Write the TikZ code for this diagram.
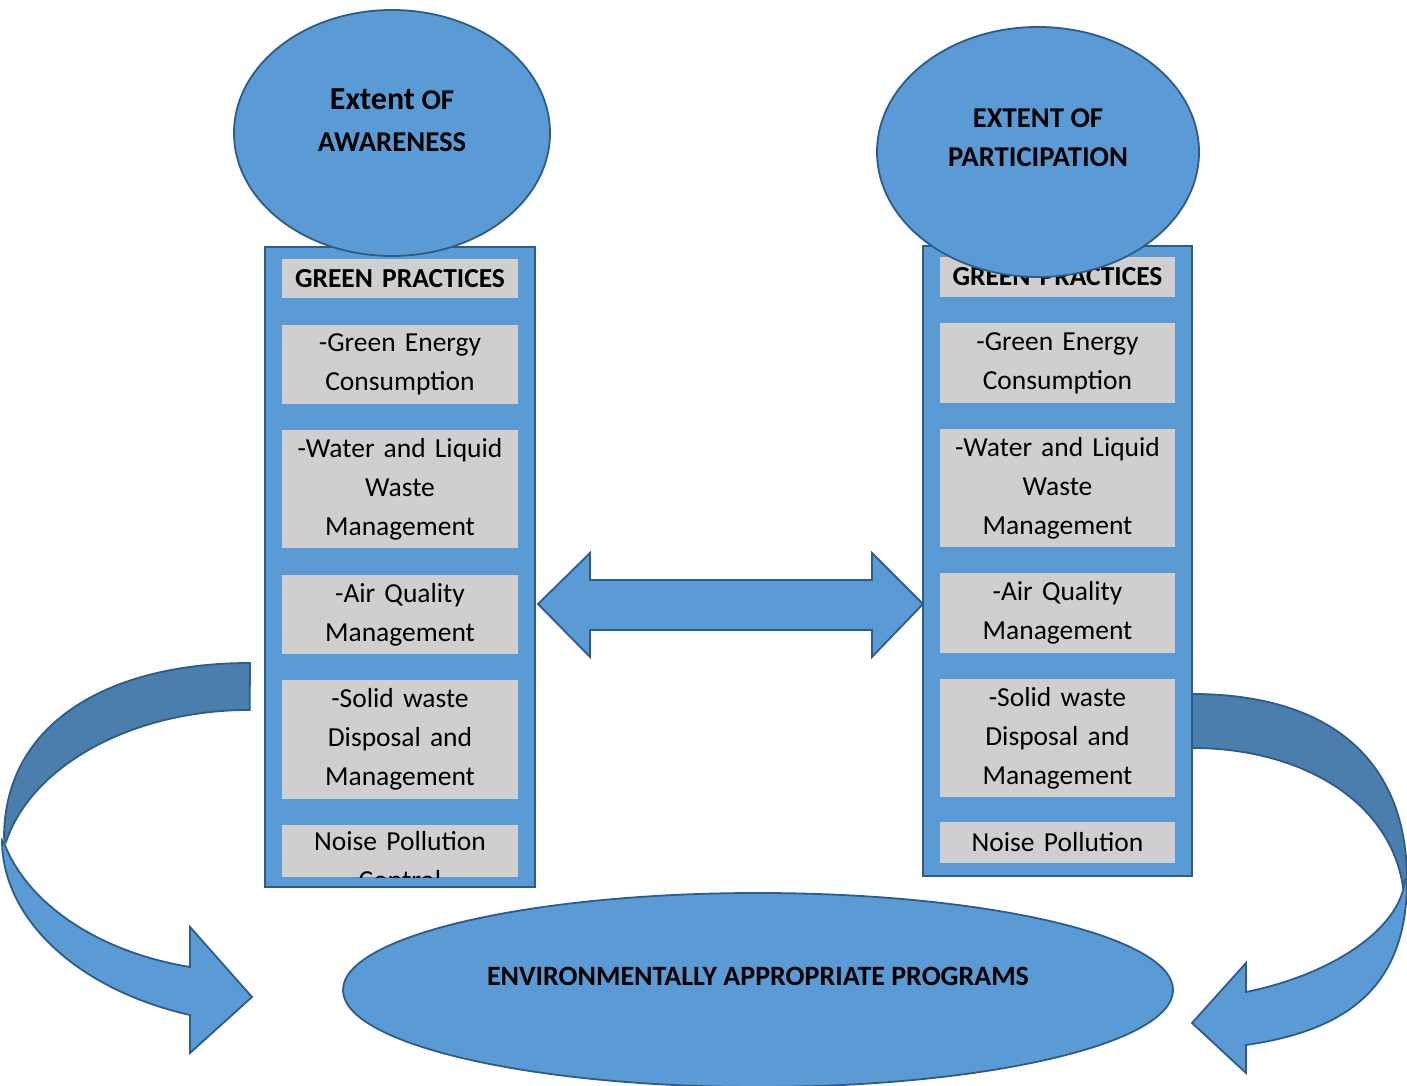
\documentclass[tikz,border=0pt]{standalone}
\usepackage{fontspec}
\setmainfont{Carlito}
\usetikzlibrary{shapes.geometric}
\definecolor{shapeblue}{HTML}{5B9BD5}
\definecolor{backblue}{HTML}{4A7EAD}
\definecolor{edgeblue}{HTML}{2D5C89}
\definecolor{itemgray}{HTML}{D0CECE}
\begin{document}
\begin{tikzpicture}[x=1pt,y=1pt,
  blue fill/.style={fill=shapeblue, draw=edgeblue, line width=1.8pt, line join=miter},
  back band/.style={blue fill, fill=backblue},
  column/.style={blue fill, rectangle, inner sep=0pt},
  itembox/.style={fill=itemgray, draw=none, rectangle, inner sep=0pt, minimum width=236pt,
                  text width=234pt, align=center, font=\fontsize{27.5}{39}\selectfont},
  headbox/.style={itembox, font=\fontsize{27.5}{39}\selectfont\bfseries},
  bubble/.style={blue fill, ellipse, inner sep=0pt},
  bubbletext/.style={align=center, font=\fontsize{28.7}{39}\selectfont\bfseries}
]
\useasboundingbox (0,0) rectangle (1407,1086);

% left curved arrow: back band, then front band with head
\path[back band] (250,423) .. controls (110,423) and (4,364) .. (4,248)
  -- (6,244) arc[start angle=167.1, end angle=90, x radius=250pt, y radius=170pt] -- cycle;
\coordinate (lt) at (252,89);
\path[blue fill] (2,246) arc[start angle=180, end angle=251.11, x radius=278pt, y radius=185pt]
  -- (190,33) -- (lt) -- (190,159) -- (190,119)
  arc[start angle=256.34, end angle=194.1, x radius=254pt, y radius=172pt] -- cycle;

% right curved arrow
\path[back band] (1192,392) .. controls (1330,392) and (1407,326) .. (1407,206)
  -- (1403,199) .. controls (1390,286) and (1300,338) .. (1192,338) -- cycle;
\coordinate (rt) at (1192,63);
\path[blue fill] (1405,206) .. controls (1400,156) and (1330,111) .. (1246,94)
  -- (1246,123) -- (rt) -- (1246,13) -- (1246,41)
  .. controls (1350,56) and (1407,101) .. (1407,206) -- cycle;

% bottom ellipse
\node[bubble, minimum width=830pt, minimum height=194pt] (env) at (758,96) {};
\node[font=\fontsize{28}{30}\selectfont\bfseries] (envtext) at (758,110) {ENVIRONMENTALLY APPROPRIATE PROGRAMS};

% columns
\node[column, minimum width=270pt, minimum height=640pt] (colL) at (400,519) {};
\node[column, minimum width=269pt, minimum height=630pt] (colR) at (1057.5,525) {};

% left column entries
\node[headbox, minimum height=39pt] (l1) at (400,807.5) {GREEN PRACTICES};
\node[itembox, minimum height=79pt] (l2) at (400,721.5) {-Green Energy\\Consumption};
\node[itembox, minimum height=118pt] (l3) at (400,597) {-Water and Liquid\\Waste\\Management};
\node[itembox, minimum height=79pt] (l4) at (400,471.5) {-Air Quality\\Management};
\node[itembox, minimum height=119pt] (l5) at (400,346.5) {-Solid waste\\Disposal and\\Management};
\node[itembox, minimum height=52pt] (l6) at (400,235) {};
\begin{scope}
  \clip (l6.south west) rectangle (l6.north east);
  \node[itembox, fill=none, anchor=north] (l6text) at (400,255) {Noise Pollution\\Control};
\end{scope}

% right column entries
\node[headbox, minimum width=235pt, minimum height=40pt] (r1) at (1057.5,809) {GREEN PRACTICES};
\node[itembox, minimum width=235pt, minimum height=80pt] (r2) at (1057.5,723) {-Green Energy\\Consumption};
\node[itembox, minimum width=235pt, minimum height=118pt] (r3) at (1057.5,598) {-Water and Liquid\\Waste\\Management};
\node[itembox, minimum width=235pt, minimum height=80pt] (r4) at (1057.5,473) {-Air Quality\\Management};
\node[itembox, minimum width=235pt, minimum height=118pt] (r5) at (1057.5,348) {-Solid waste\\Disposal and\\Management};
\node[itembox, minimum width=235pt, minimum height=41pt] (r6) at (1057.5,243.5) {Noise Pollution};

% top ellipses
\node[bubble, minimum width=316pt, minimum height=246pt] (aware) at (392,953) {};
\node[bubbletext, font=\fontsize{28.7}{42}\selectfont\bfseries] (awaretext) at (392,966)
  {{\fontsize{32}{42}\selectfont Extent} OF\\AWARENESS};
\node[bubble, minimum width=322pt, minimum height=250pt] (part) at (1038,934) {};
\node[bubbletext] (parttext) at (1038,948)
  {EXTENT OF\\PARTICIPATION};

% double arrow between the columns
\coordinate (al) at (538,482);
\coordinate (ar) at (923,482);
\path[blue fill] (al) -- (590,533) -- (590,506) -- (872,506) -- (872,533) -- (ar)
  -- (872,429) -- (872,456) -- (590,456) -- (590,429) -- cycle;
\end{tikzpicture}
\end{document}
